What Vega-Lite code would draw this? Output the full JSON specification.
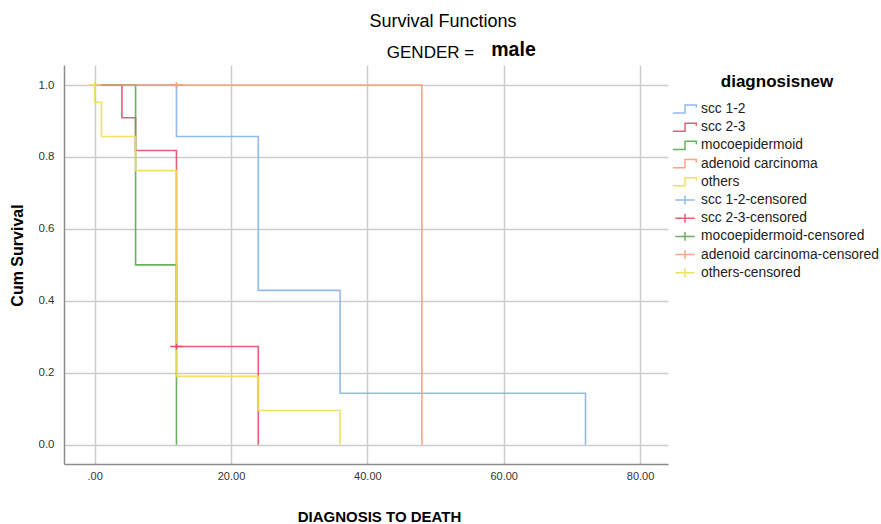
{
  "$schema": "https://vega.github.io/schema/vega-lite/v6.json",
  "autosize": "none",
  "width": 604,
  "height": 399,
  "padding": {"left": 64, "top": 65, "right": 213, "bottom": 60},
  "background": "white",
  "title": {
    "text": "Survival Functions",
    "anchor": "middle",
    "dx": 77,
    "font": "Liberation Sans",
    "fontSize": 18,
    "fontWeight": "normal",
    "color": "#000000",
    "offset": 8
  },
  "data": {
    "values": [
      {"series": "scc 1-2", "kind": "line", "i": 0, "t": 0, "s": 1},
      {"series": "scc 1-2", "kind": "line", "i": 1, "t": 12, "s": 0.857},
      {"series": "scc 1-2", "kind": "line", "i": 2, "t": 24, "s": 0.429},
      {"series": "scc 1-2", "kind": "line", "i": 3, "t": 36, "s": 0.143},
      {"series": "scc 1-2", "kind": "line", "i": 4, "t": 72, "s": 0},
      {"series": "scc 2-3", "kind": "line", "i": 0, "t": 0, "s": 1},
      {"series": "scc 2-3", "kind": "line", "i": 1, "t": 4, "s": 0.909},
      {"series": "scc 2-3", "kind": "line", "i": 2, "t": 6, "s": 0.818},
      {"series": "scc 2-3", "kind": "line", "i": 3, "t": 12, "s": 0.273},
      {"series": "scc 2-3", "kind": "line", "i": 4, "t": 24, "s": 0},
      {"series": "mocoepidermoid", "kind": "line", "i": 0, "t": 0, "s": 1},
      {"series": "mocoepidermoid", "kind": "line", "i": 1, "t": 6, "s": 0.5},
      {"series": "mocoepidermoid", "kind": "line", "i": 2, "t": 12, "s": 0},
      {"series": "adenoid carcinoma", "kind": "line", "i": 0, "t": 0, "s": 1},
      {"series": "adenoid carcinoma", "kind": "line", "i": 1, "t": 48, "s": 0},
      {"series": "others", "kind": "line", "i": 0, "t": 0, "s": 1},
      {"series": "others", "kind": "line", "i": 1, "t": 0, "s": 0.952},
      {"series": "others", "kind": "line", "i": 2, "t": 1, "s": 0.857},
      {"series": "others", "kind": "line", "i": 3, "t": 6, "s": 0.762},
      {"series": "others", "kind": "line", "i": 4, "t": 12, "s": 0.19},
      {"series": "others", "kind": "line", "i": 5, "t": 24, "s": 0.095},
      {"series": "others", "kind": "line", "i": 6, "t": 36, "s": 0},
      {"series": "others-censored", "kind": "cens", "i": 0, "t": 0, "s": 1},
      {"series": "adenoid carcinoma-censored", "kind": "cens", "i": 0, "t": 12, "s": 1},
      {"series": "scc 2-3-censored", "kind": "cens", "i": 0, "t": 12, "s": 0.273}
    ]
  },
  "layer": [
    {
      "transform": [{"filter": "datum.kind == 'line'"}],
      "mark": {"type": "line", "interpolate": "step-after", "strokeWidth": 1.6, "opacity": 0.9},
      "encoding": {
        "x": {
          "field": "t", "type": "quantitative",
          "scale": {"domain": [-4.5, 84.1], "nice": false, "zero": false},
          "axis": {
            "orient": "bottom",
            "values": [0, 20, 40, 60, 80],
            "labelExpr": "datum.value == 0 ? '.00' : format(datum.value, '.2f')",
            "grid": true,
            "ticks": false,
            "labelPadding": 6,
            "title": "DIAGNOSIS TO DEATH",
            "titleFont": "Liberation Sans",
            "titleFontSize": 15,
            "titleFontWeight": "bold",
            "titleColor": "#000000",
            "titleX": 315,
            "titleY": 57,
            "titleAlign": "center",
            "titleBaseline": "alphabetic"
          }
        },
        "y": {
          "field": "s", "type": "quantitative",
          "scale": {"domain": [-0.0536, 1.0556], "nice": false, "zero": false},
          "axis": {
            "orient": "left",
            "values": [0, 0.2, 0.4, 0.6, 0.8, 1.0],
            "format": ".1f",
            "grid": true,
            "ticks": false,
            "labelPadding": 10,
            "labelFontSize": 11.5,
            "title": "Cum Survival",
            "titleFont": "Liberation Sans",
            "titleFontSize": 16,
            "titleFontWeight": "bold",
            "titleColor": "#000000",
            "titlePadding": 13,
            "titleY": 190
          }
        },
        "color": {
          "field": "series", "type": "nominal", "title": "diagnosisnew",
          "scale": {
            "domain": ["scc 1-2", "scc 2-3", "mocoepidermoid", "adenoid carcinoma", "others", "scc 1-2-censored", "scc 2-3-censored", "mocoepidermoid-censored", "adenoid carcinoma-censored", "others-censored"],
            "range": ["#86b3f0", "#e64b6c", "#5aa84f", "#f79e78", "#eedd55", "#86b3f0", "#e64b6c", "#5aa84f", "#f79e78", "#eedd55"]
          }
        },
        "order": {"field": "i", "type": "quantitative"}
      }
    },
    {
      "transform": [{"filter": "datum.kind == 'cens'"}],
      "mark": {"type": "point", "filled": false, "strokeWidth": 1.5, "size": 110, "opacity": 1},
      "encoding": {
        "x": {
          "field": "t", "type": "quantitative",
          "axis": {
            "orient": "top",
            "labels": false,
            "ticks": false,
            "domain": false,
            "grid": false,
            "title": "male",
            "titleFont": "Liberation Sans",
            "titleFontSize": 19.5,
            "titleFontWeight": "bold",
            "titleColor": "#000000",
            "titleX": 449,
            "titleY": -10,
            "titleAlign": "center",
            "titleBaseline": "alphabetic"
          }
        },
        "y": {
          "field": "s", "type": "quantitative",
          "axis": {
            "orient": "right",
            "labels": false,
            "ticks": false,
            "domain": false,
            "grid": false,
            "title": "GENDER =",
            "titleAngle": 0,
            "titleFont": "Liberation Sans",
            "titleFontSize": 17,
            "titleFontWeight": "normal",
            "titleColor": "#000000",
            "titleX": -238,
            "titleY": -8,
            "titleAlign": "center",
            "titleBaseline": "alphabetic"
          }
        },
        "color": {"field": "series", "type": "nominal", "title": "diagnosisnew"},
        "shape": {
          "field": "series", "type": "nominal", "title": "diagnosisnew",
          "scale": {
            "domain": ["scc 1-2", "scc 2-3", "mocoepidermoid", "adenoid carcinoma", "others", "scc 1-2-censored", "scc 2-3-censored", "mocoepidermoid-censored", "adenoid carcinoma-censored", "others-censored"],
            "range": ["M-1.5,0.5H0V-0.5H1.4V-0.15", "M-1.5,0.5H0V-0.5H1.4V-0.15", "M-1.5,0.5H0V-0.5H1.4V-0.15", "M-1.5,0.5H0V-0.5H1.4V-0.15", "M-1.5,0.5H0V-0.5H1.4V-0.15", "M-1.2,0H1.2M0,-0.55V0.55", "M-1.2,0H1.2M0,-0.55V0.55", "M-1.2,0H1.2M0,-0.55V0.55", "M-1.2,0H1.2M0,-0.55V0.55", "M-1.2,0H1.2M0,-0.55V0.55"]
          }
        }
      }
    }
  ],
  "resolve": {"axis": {"x": "independent", "y": "independent"}},
  "config": {
    "view": {"stroke": null},
    "font": "Liberation Sans",
    "axis": {
      "gridColor": "#cccccc",
      "gridWidth": 1.5,
      "domainColor": "#8c8c8c",
      "domainWidth": 1.5,
      "labelFont": "Liberation Sans",
      "labelFontSize": 11,
      "labelColor": "#333333"
    },
    "legend": {
      "orient": "none",
      "legendX": 612,
      "legendY": 9,
      "titleFont": "Liberation Sans",
      "titleFontSize": 17,
      "titleFontWeight": "bold",
      "titleColor": "#000000",
      "titleAnchor": "middle",
      "titlePadding": 9,
      "labelFont": "Liberation Sans",
      "labelFontSize": 13.8,
      "labelColor": "#222222",
      "labelOffset": 7,
      "labelLimit": 300,
      "symbolSize": 262,
      "symbolStrokeWidth": 1.5,
      "rowPadding": 1.2
    }
  }
}
